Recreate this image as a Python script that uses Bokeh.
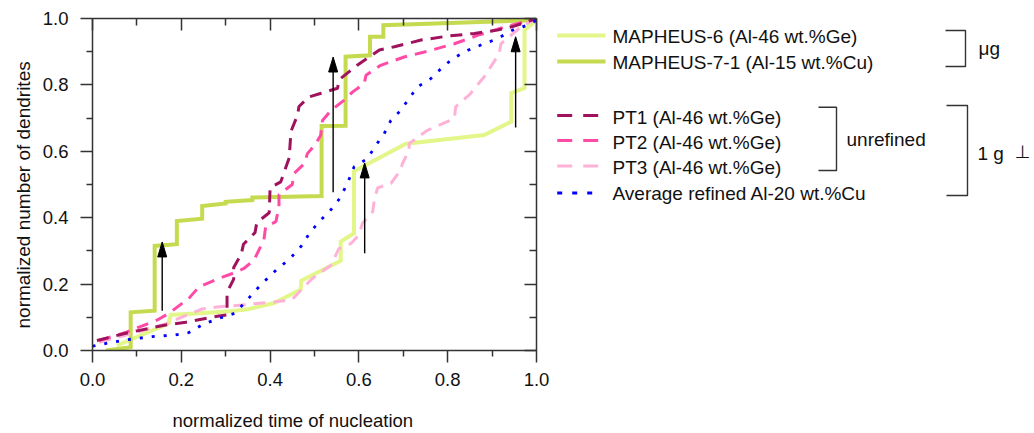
from bokeh.plotting import figure
from bokeh.layouts import row, column
from bokeh.models import Range1d, LinearAxis, FixedTicker, CustomJSTickFormatter, Title
from bokeh.embed import file_html
from bokeh.resources import INLINE
from bokeh.core.properties import value

FONT = "Liberation Sans"

# ---------------- data ----------------
m6_x = [0.055, 0.172, 0.176, 0.25, 0.311, 0.349, 0.409, 0.469, 0.47, 0.559, 0.559, 0.589, 0.589,
        0.706, 0.882, 0.943, 0.943, 0.973, 0.973, 1.0]
m6_y = [0.015, 0.082, 0.107, 0.113, 0.118, 0.124, 0.143, 0.184, 0.21, 0.27, 0.328, 0.353, 0.54,
        0.623, 0.649, 0.689, 0.775, 0.79, 0.965, 0.995]

m7_x = [0.03, 0.086, 0.086, 0.14, 0.14, 0.19, 0.19, 0.247, 0.247, 0.30, 0.30, 0.36, 0.36, 0.516,
        0.516, 0.57, 0.57, 0.625, 0.625, 0.655, 0.655, 1.0]
m7_y = [0.0, 0.01, 0.115, 0.12, 0.315, 0.32, 0.39, 0.397, 0.435, 0.443, 0.448, 0.453, 0.461, 0.465,
        0.676, 0.677, 0.885, 0.889, 0.945, 0.945, 0.98, 0.995]

pt1_x = [0.01, 0.075, 0.165, 0.21, 0.285, 0.303, 0.303, 0.318, 0.318, 0.335, 0.34, 0.366, 0.37,
         0.398, 0.4, 0.424, 0.443, 0.447, 0.462, 0.465, 0.488, 0.515, 0.552, 0.555, 0.597, 0.646,
         0.68, 0.74, 0.80, 0.86, 0.912, 0.95, 1.0]
pt1_y = [0.03, 0.052, 0.077, 0.085, 0.104, 0.107, 0.175, 0.215, 0.25, 0.29, 0.32, 0.355, 0.385,
         0.415, 0.49, 0.508, 0.58, 0.66, 0.71, 0.735, 0.764, 0.775, 0.79, 0.815, 0.86, 0.905,
         0.915, 0.935, 0.947, 0.955, 0.965, 0.977, 1.0]

pt2_x = [0.015, 0.078, 0.146, 0.172, 0.217, 0.24, 0.285, 0.315, 0.341, 0.364, 0.386, 0.39, 0.413,
         0.42, 0.42, 0.45, 0.454, 0.477, 0.484, 0.503, 0.514, 0.518, 0.537, 0.567, 0.586, 0.612,
         0.616, 0.649, 0.702, 0.762, 0.815, 0.867, 0.912, 1.0]
pt2_y = [0.03, 0.056, 0.092, 0.112, 0.157, 0.192, 0.217, 0.232, 0.247, 0.273, 0.333, 0.373, 0.388,
         0.433, 0.47, 0.5, 0.533, 0.563, 0.593, 0.623, 0.648, 0.693, 0.723, 0.754, 0.779, 0.804,
         0.829, 0.859, 0.884, 0.904, 0.924, 0.949, 0.968, 1.0]

pt3_x = [0.015, 0.1, 0.165, 0.2, 0.247, 0.28, 0.337, 0.364, 0.409, 0.45, 0.473, 0.495, 0.537,
         0.555, 0.582, 0.6, 0.608, 0.631, 0.635, 0.642, 0.672, 0.694, 0.698, 0.713, 0.713, 0.754,
         0.815, 0.818, 0.848, 0.882, 0.916, 0.92, 0.965, 1.0]
pt3_y = [0.025, 0.055, 0.08, 0.1, 0.125, 0.131, 0.137, 0.141, 0.146, 0.154, 0.187, 0.217, 0.257,
         0.307, 0.322, 0.348, 0.383, 0.418, 0.455, 0.49, 0.503, 0.543, 0.563, 0.603, 0.623, 0.663,
         0.699, 0.734, 0.769, 0.824, 0.894, 0.924, 0.975, 1.0]

avg_x = [0.0, 0.037, 0.075, 0.135, 0.187, 0.217, 0.251, 0.285, 0.32, 0.345, 0.368, 0.39, 0.416,
         0.445, 0.47, 0.49, 0.512, 0.535, 0.557, 0.574, 0.589, 0.619, 0.638, 0.657, 0.672, 0.694,
         0.713, 0.732, 0.762, 0.785, 0.811, 0.845, 0.882, 0.912, 0.946, 0.98, 1.0]
avg_y = [0.013, 0.023, 0.032, 0.042, 0.047, 0.054, 0.08, 0.097, 0.112, 0.147, 0.182, 0.212, 0.245,
         0.277, 0.314, 0.356, 0.39, 0.421, 0.458, 0.503, 0.553, 0.578, 0.618, 0.653, 0.693, 0.723,
         0.759, 0.794, 0.819, 0.849, 0.879, 0.904, 0.924, 0.939, 0.965, 0.98, 0.995]

arrow_x = [0.157, 0.542, 0.613, 0.953]
arrow_y_start = [0.12, 0.477, 0.293, 0.672]
arrow_y_end = [0.327, 0.884, 0.565, 0.945]

x_ticks = [0.0, 0.2, 0.4, 0.6, 0.8, 1.0]
x_minor = [0.1, 0.3, 0.5, 0.7, 0.9]
y_ticks = [0.0, 0.2, 0.4, 0.6, 0.8, 1.0]
y_minor = [0.1, 0.3, 0.5, 0.7, 0.9]

x_label = "normalized time of nucleation"
y_label = "normalized number of dendrites"
labels = ["MAPHEUS-6 (Al-46 wt.%Ge)", "MAPHEUS-7-1 (Al-15 wt.%Cu)", "PT1 (Al-46 wt.%Ge)",
          "PT2 (Al-46 wt.%Ge)", "PT3 (Al-46 wt.%Ge)", "Average refined Al-20 wt.%Cu"]
colors = ["#e3f68a", "#c6da4f", "#a0125d", "#ff4aa6", "#ffb2d7", "#0000ff"]

# ---------------- main plot ----------------
FRAME_W, FRAME_H = 444, 332
AX_COL = "#333333"
TXT = "#111111"

p = figure(width=552, height=403, x_range=Range1d(0, 1), y_range=Range1d(0, 1),
           output_backend="svg", toolbar_location=None,
           min_border_left=92, min_border_right=16, min_border_top=18, min_border_bottom=53)
p.xgrid.visible = False
p.ygrid.visible = False
p.outline_line_color = None
p.background_fill_color = "white"
p.border_fill_color = "white"

for ax, tk, mn in ((p.xaxis[0], x_ticks, x_minor), (p.yaxis[0], y_ticks, y_minor)):
    ax.ticker = FixedTicker(ticks=tk, minor_ticks=mn)
    ax.formatter = CustomJSTickFormatter(code="return tick.toFixed(1)")
    ax.major_tick_out = 12
    ax.major_tick_in = 0
    ax.minor_tick_out = 6
    ax.minor_tick_in = 0
    ax.axis_line_color = AX_COL
    ax.axis_line_width = 1.5
    ax.major_tick_line_color = AX_COL
    ax.major_tick_line_width = 1.5
    ax.minor_tick_line_color = AX_COL
    ax.minor_tick_line_width = 1.5
    ax.major_label_text_font = FONT
    ax.major_label_text_font_size = "18.5px"
    ax.major_label_text_color = TXT

p.xaxis[0].major_label_standoff = 10
p.yaxis[0].major_label_standoff = 12

for loc, tk, mn in (("above", x_ticks, x_minor), ("right", y_ticks, y_minor)):
    ax = LinearAxis(ticker=FixedTicker(ticks=tk, minor_ticks=mn),
                    formatter=CustomJSTickFormatter(code="return ''"),
                    major_tick_in=12, major_tick_out=0, minor_tick_in=7, minor_tick_out=0,
                    major_label_text_font_size="0px", major_label_standoff=0,
                    axis_line_color=AX_COL, axis_line_width=1.5,
                    major_tick_line_color=AX_COL, major_tick_line_width=1.5,
                    minor_tick_line_color=AX_COL, minor_tick_line_width=1.5)
    p.add_layout(ax, loc)

# y axis title (Title so it can be offset like the reference)
p.add_layout(Title(text=y_label, align="left", offset=22, standoff=12,
                   text_font=FONT, text_font_size="19px", text_font_style="normal",
                   text_color=TXT), "left")

p.line(m6_x, m6_y, line_color=colors[0], line_width=4, line_join="miter")
p.line(m7_x, m7_y, line_color=colors[1], line_width=4, line_join="miter")
p.line(pt3_x, pt3_y, line_color=colors[4], line_width=3, line_dash="12 8")
p.line(pt2_x, pt2_y, line_color=colors[3], line_width=3, line_dash="12 8")
p.line(pt1_x, pt1_y, line_color=colors[2], line_width=3, line_dash="12 8")
p.line(avg_x, avg_y, line_color=colors[5], line_width=2.8, line_dash="3 9")

# arrows
HEAD_W, HEAD_H = 9, 15
hx = HEAD_W / 2 / FRAME_W
hy = HEAD_H / FRAME_H
p.segment(x0=arrow_x, y0=arrow_y_start, x1=arrow_x, y1=[y - hy * 0.5 for y in arrow_y_end],
          line_color="black", line_width=1.4)
p.patches(xs=[[x - hx, x + hx, x] for x in arrow_x],
          ys=[[y - hy, y - hy, y] for y in arrow_y_end],
          fill_color="black", line_color="black", line_width=1)

# ---------------- x axis title strip (same frame as main plot) ----------------
XH = 30
xl = figure(width=552, height=XH, x_range=Range1d(0, 1), y_range=Range1d(XH, 0),
            output_backend="svg", toolbar_location=None,
            min_border_left=92, min_border_right=16, min_border_top=0, min_border_bottom=0,
            x_axis_location=None, y_axis_location=None)
xl.xgrid.visible = False
xl.ygrid.visible = False
xl.outline_line_color = None
xl.text(x=[80 / FRAME_W], y=[17], text=[x_label], text_font=value(FONT), text_font_size="18.5px",
        text_baseline="middle", text_align="left", text_color=TXT)

# ---------------- legend panel ----------------
LW, LH = 482, 433
q = figure(width=LW, height=LH, x_range=Range1d(0, LW), y_range=Range1d(LH, 0),
           output_backend="svg", toolbar_location=None, min_border=0,
           x_axis_location=None, y_axis_location=None)
q.xgrid.visible = False
q.ygrid.visible = False
q.outline_line_color = None

leg_line_y = [35, 61, 115, 140, 165.5, 192.5]
leg_text_y = [36, 61.7, 116.7, 141.7, 166.7, 193.3]
leg_x0 = 4.7
leg_x1 = [53, 53, 46, 46, 46, 41]
leg_dash = ["solid", "solid", "15 11", "15 11", "15 11", "5 10"]
leg_width = [4, 4, 3, 3, 3, 2.8]
for i in range(6):
    q.line([leg_x0, leg_x1[i]], [leg_line_y[i]] * 2, line_color=colors[i],
           line_width=leg_width[i], line_dash=leg_dash[i])
q.text(x=[60] * 6, y=leg_text_y, text=labels, text_font=value(FONT), text_font_size="19px",
       text_baseline="middle", text_align="left", text_color=TXT)

# brackets
br_xs = [[393, 413, 413, 393], [266, 284, 284, 266], [394, 415, 415, 394]]
br_ys = [[30, 30, 66, 66], [106.7, 106.7, 170, 170], [105, 105, 195, 195]]
q.multi_line(xs=br_xs, ys=br_ys, line_color="#333333", line_width=1.4)
q.text(x=[426, 294, 425], y=[48, 139, 153], text=["μg", "unrefined", "1 g"],
       text_font=value(FONT), text_font_size="19px", text_baseline="middle",
       text_align="left", text_color=TXT)
q.text(x=[470], y=[151], text=["⊥"], text_font=value("DejaVu Sans"), text_font_size="18px",
       text_baseline="middle", text_align="center", text_color=TXT)

layout = row(column(p, xl, spacing=0), q, spacing=0)
open("out.html", "w").write(file_html(layout, INLINE))
